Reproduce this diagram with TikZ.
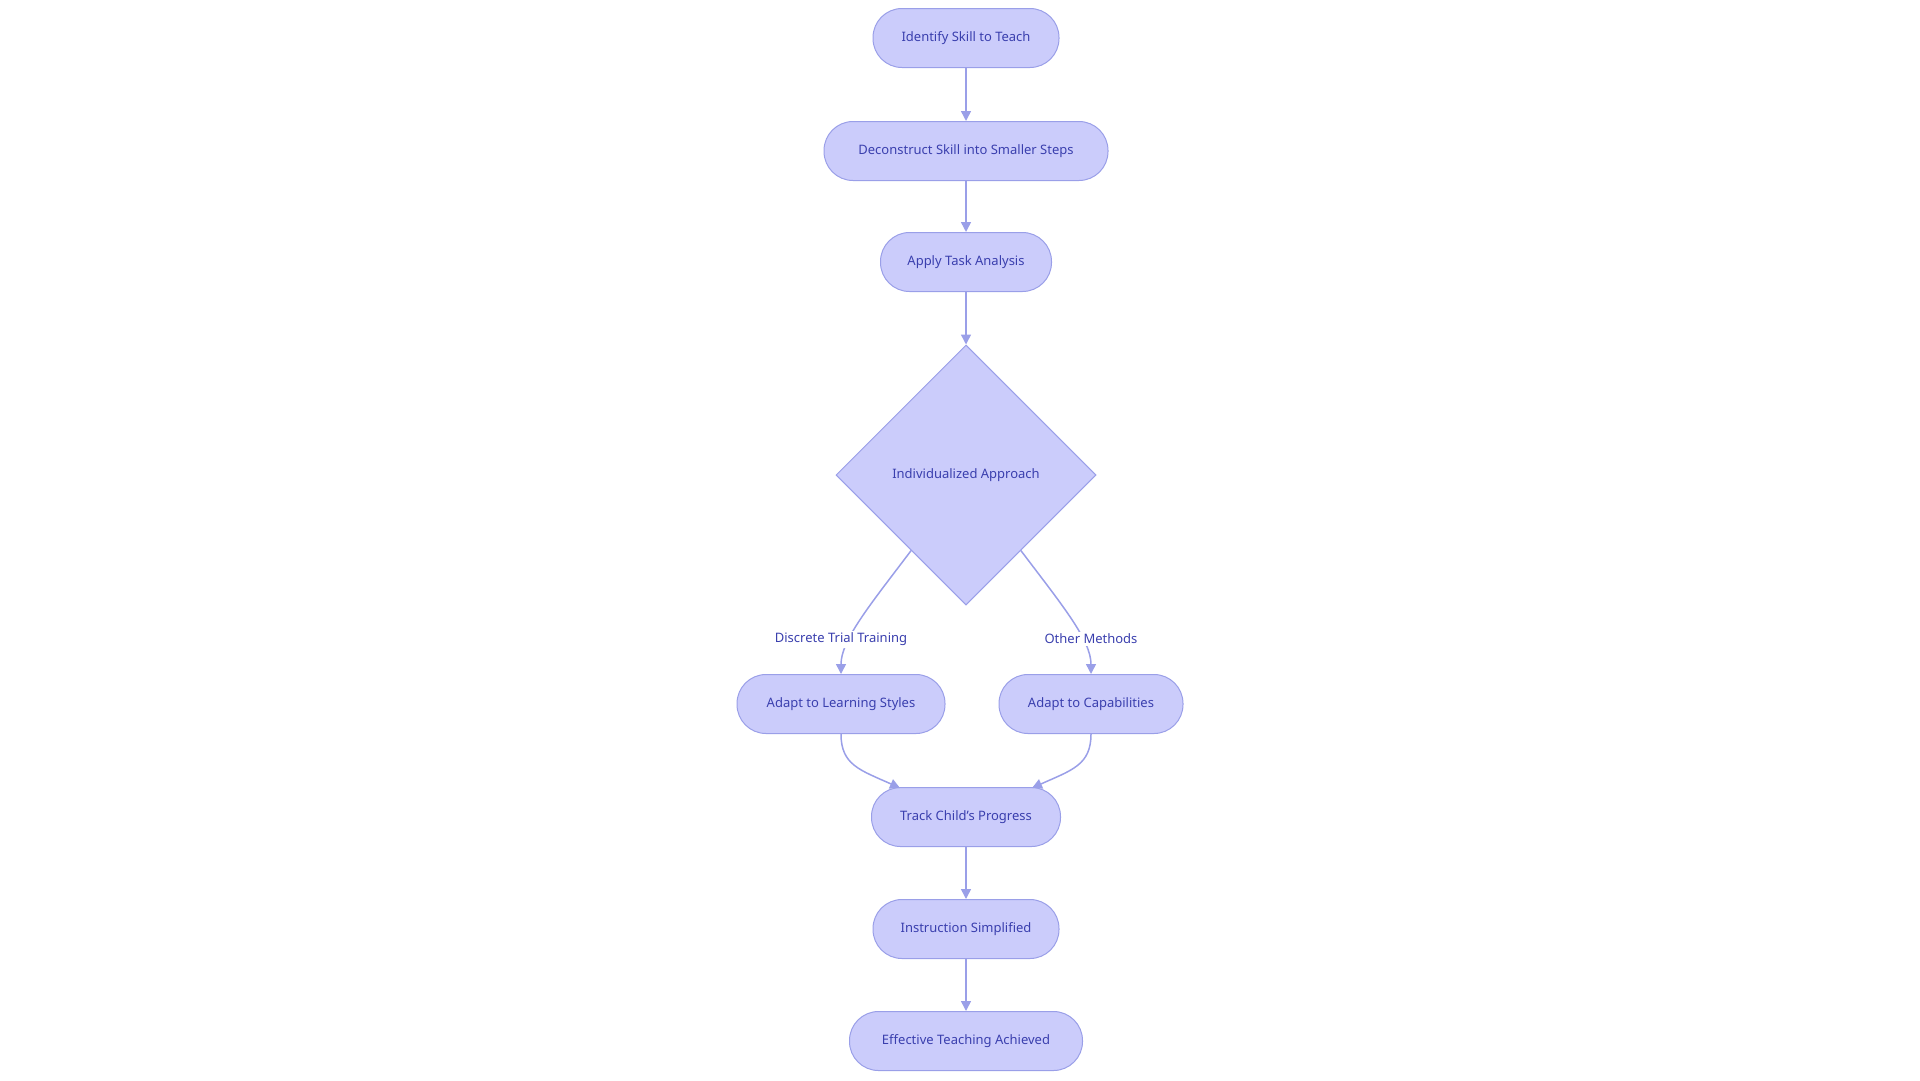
\documentclass[tikz,border=0pt]{standalone}
\usepackage{fontspec}
\setmainfont{Noto Sans}
\usetikzlibrary{shapes.geometric,arrows.meta}
\definecolor{nfill}{HTML}{CBCCFB}
\definecolor{nline}{HTML}{9A9FE8}
\definecolor{ntext}{HTML}{3A3FAE}
\begin{document}
\begin{tikzpicture}[x=1pt,y=-1pt,
  every node/.style={font=\fontsize{13}{15}\selectfont, text=ntext},
  pill/.style={draw=nline, fill=nfill, line width=1pt, rounded corners=29pt, minimum height=59pt, inner sep=0pt},
  dia/.style={draw=nline, fill=nfill, line width=1pt, diamond, aspect=1, minimum size=260pt, inner sep=0pt},
  arr/.style={draw=nline, line width=1.5pt, -{Triangle[length=10pt,width=10pt]}},
  lab/.style={fill=white, inner sep=2pt}]
\useasboundingbox (0,0) rectangle (1920,1080);
\node[pill, minimum width=186pt] (a) at (966,38) {Identify Skill to Teach};
\node[pill, minimum width=284pt] (b) at (966,151) {Deconstruct Skill into Smaller Steps};
\node[pill, minimum width=171pt] (c) at (966,262) {Apply Task Analysis};
\node[dia] (d) at (966,475) {Individualized Approach};
\node[pill, minimum width=208pt] (e) at (841,704) {Adapt to Learning Styles};
\node[pill, minimum width=184pt] (f) at (1091,704) {Adapt to Capabilities};
\node[pill, minimum width=189pt] (g) at (966,817) {Track Child's Progress};
\node[pill, minimum width=186pt] (h) at (966,929) {Instruction Simplified};
\node[pill, minimum width=233pt] (i) at (966,1041) {Effective Teaching Achieved};
\draw[arr] (a) -- (b);
\draw[arr] (b) -- (c);
\draw[arr] (c) -- (d);
\draw[arr] (d.-126) .. controls (870,605) and (841,640) .. (e.north);
\draw[arr] (d.-54) .. controls (1062,605) and (1091,640) .. (f.north);
\node[lab] (l1) at (841,639) {Discrete Trial Training};
\node[lab] (l2) at (1091,639) {Other Methods};
\coordinate (gl) at (900,788);
\coordinate (gr) at (1032,788);
\draw[arr] (e.south) .. controls (841,765) and (860,770) .. (gl);
\draw[arr] (f.south) .. controls (1091,765) and (1072,770) .. (gr);
\draw[arr] (g) -- (h);
\draw[arr] (h) -- (i);
\end{tikzpicture}
\end{document}
